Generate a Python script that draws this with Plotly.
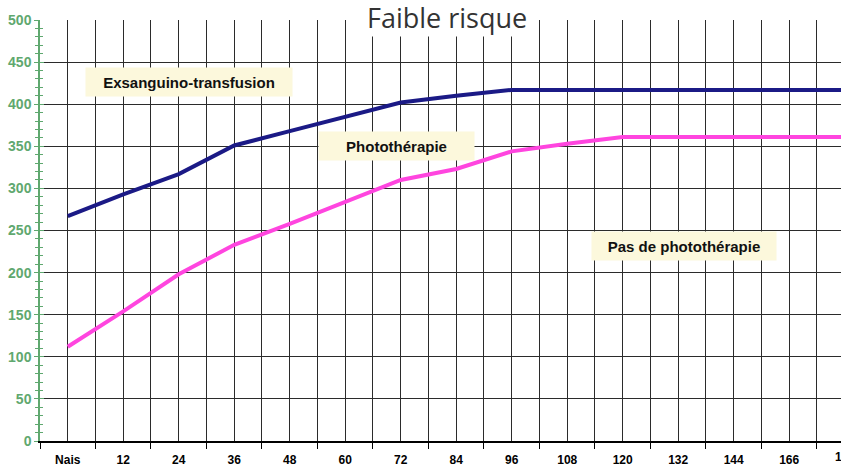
import plotly.graph_objects as go

# Data
hours = [0, 12, 24, 36, 48, 60, 72, 84, 96, 108, 120, 132, 144, 156, 168]
tick_labels = ["Nais", "12", "24", "36", "48", "60", "72", "84", "96", "108",
               "120", "132", "144", "166", "168"]
exsanguino = [267, 293, 317, 351, 368, 385, 402, 410, 417, 417, 417, 417, 417, 417, 417]
phototherapie = [112, 154, 198, 233, 258, 284, 310, 323, 344, 353, 361, 361, 361, 361, 361]

title_text = "Faible risque"
zone_labels = ["Exsanguino-transfusion", "Photothérapie", "Pas de photothérapie"]
zone_x = [26.2, 71.1, 133.3]
zone_y = [426, 350, 232]
zone_w = [202, 151, 180]

GREEN = "#5fa86f"
GRID = "#2b2b2b"
BEIGE = "#fcf8dc"
BLUE = "#1b1a86"
PINK = "#ff45df"

fig = go.Figure()
fig.add_trace(go.Scatter(x=hours, y=exsanguino, mode="lines",
                         line=dict(color=BLUE, width=4), showlegend=False))
fig.add_trace(go.Scatter(x=hours, y=phototherapie, mode="lines",
                         line=dict(color=PINK, width=4), showlegend=False))

fig.update_layout(
    width=841, height=467,
    margin=dict(l=40, r=0, t=20, b=22),
    paper_bgcolor="white", plot_bgcolor="white",
    font=dict(family="Arial, Liberation Sans", color="black"),
    xaxis=dict(
        range=[-6, 167.2],
        tickmode="array", tickvals=hours, ticktext=tick_labels,
        ticks="", showgrid=True, gridcolor=GRID, gridwidth=1.4,
        showline=True, linecolor="black", linewidth=1.5,
        zeroline=False, ticklabelstandoff=7,
        tickfont=dict(size=12, family="Arial, Liberation Sans", color="black", weight="bold"),
        minor=dict(tickmode="linear", tick0=6, dtick=12, ticks="outside", ticklen=6,
                   tickcolor="black", tickwidth=1.2,
                   showgrid=True, gridcolor=GRID, gridwidth=1.4),
    ),
    yaxis=dict(
        range=[0, 500], tickmode="linear", tick0=0, dtick=50,
        ticks="outside", ticklen=4, tickcolor=GREEN, tickwidth=1.3,
        showgrid=True, gridcolor=GRID, gridwidth=1.4,
        showline=True, linecolor=GREEN, linewidth=1.5, zeroline=False,
        tickfont=dict(size=14, family="Arial, Liberation Sans", color=GREEN, weight="bold"),
        minor=dict(dtick=10, ticks="outside", ticklen=3, tickcolor=GREEN, tickwidth=1),
    ),
    yaxis2=dict(
        overlaying="y", side="left", anchor="x", range=[0, 500],
        tickmode="linear", tick0=0, dtick=50, ticks="inside", ticklen=4,
        tickcolor=GREEN, tickwidth=1.3, showticklabels=False, showgrid=False,
        zeroline=False, showline=False,
        minor=dict(dtick=10, ticks="inside", ticklen=3, tickcolor=GREEN, tickwidth=1),
    ),
)

# invisible trace so yaxis2 (the inner half of the crossing ticks) is rendered
fig.add_trace(go.Scatter(x=[hours[0]], y=[exsanguino[0]], yaxis="y2", mode="markers",
                         marker=dict(opacity=0), showlegend=False, hoverinfo="skip"))

for txt, x, y, w in zip(zone_labels, zone_x, zone_y, zone_w):
    fig.add_annotation(x=x, y=y, xref="x", yref="y", text=txt, showarrow=False,
                       bgcolor=BEIGE, width=w, height=24, borderpad=2,
                       font=dict(size=15, family="Arial, Liberation Sans", color="#111", weight="bold"))

# title, overlapping the top of the grid on a white box
fig.add_annotation(x=0.508, y=1.007, xref="paper", yref="paper", text=title_text,
                   showarrow=False, bgcolor="white", xanchor="center", yanchor="middle",
                   borderpad=0,
                   font=dict(size=27, family="Open Sans", color="#333"))

# last category label, cut by the right edge as in the reference
fig.add_annotation(x=1.005, y=-0.0376, xref="paper", yref="paper", text=tick_labels[-1],
                   showarrow=False, xanchor="center", yanchor="middle",
                   font=dict(size=12, family="Arial, Liberation Sans", color="black", weight="bold"))

fig.write_html("out.html", config={"displayModeBar": False},
               post_script="document.body.style.margin='0';")
